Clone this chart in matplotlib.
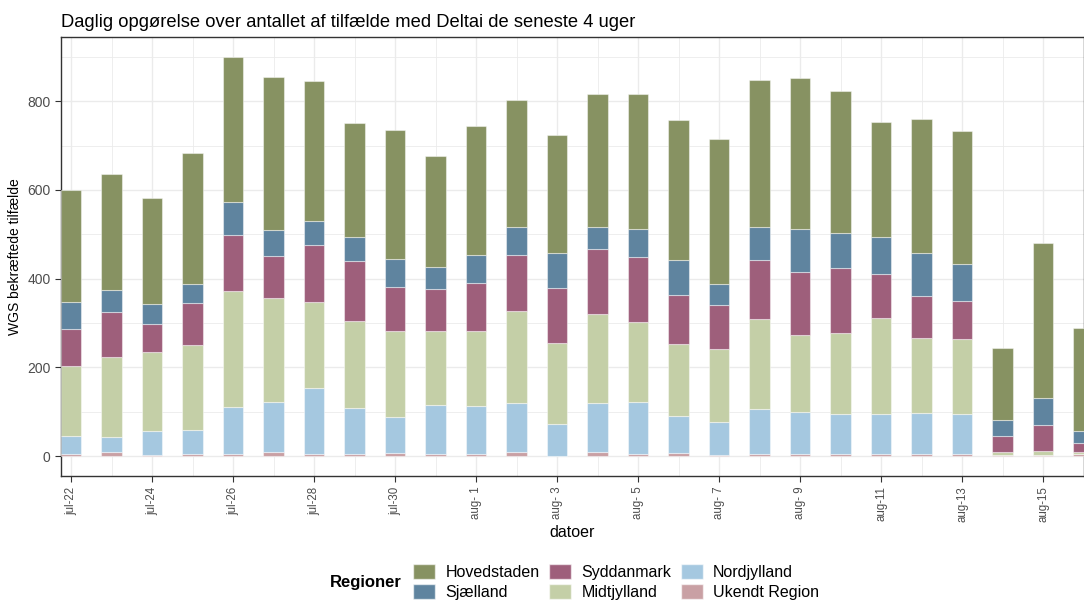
import matplotlib.pyplot as plt
import numpy as np
from matplotlib.patches import Patch

plt.rcParams['font.family'] = ['Liberation Sans', 'DejaVu Sans']

dates = ["jul-22", "jul-23", "jul-24", "jul-25", "jul-26", "jul-27", "jul-28",
         "jul-29", "jul-30", "jul-31", "aug- 1", "aug- 2", "aug- 3", "aug- 4",
         "aug- 5", "aug- 6", "aug- 7", "aug- 8", "aug- 9", "aug-10", "aug-11",
         "aug-12", "aug-13", "aug-14", "aug-15", "aug-16"]

# counts per region
ukendt = [5, 8, 3, 5, 5, 8, 5, 5, 7, 5, 5, 8, 1, 10, 5, 7, 3, 5, 5, 5, 5, 5, 5, 3, 3, 4]
nordjylland = [40, 35, 53, 53, 105, 115, 149, 104, 80, 110, 108, 111, 71, 109, 118, 84, 74, 101, 94, 89, 89, 93, 89, 0, 0, 0]
midtjylland = [159, 180, 179, 192, 262, 233, 194, 196, 194, 166, 168, 208, 182, 201, 179, 161, 164, 202, 173, 184, 218, 168, 169, 6, 9, 5]
syddanmark = [83, 101, 63, 95, 127, 96, 127, 135, 101, 96, 110, 126, 126, 146, 147, 112, 99, 134, 144, 147, 99, 94, 87, 36, 58, 21]
sjaelland = [61, 50, 45, 44, 73, 57, 56, 55, 62, 50, 63, 63, 79, 50, 62, 78, 49, 75, 95, 79, 84, 99, 82, 37, 60, 26]
hovedstaden = [252, 261, 238, 295, 328, 345, 314, 256, 291, 250, 290, 288, 264, 300, 305, 315, 326, 332, 341, 319, 259, 302, 300, 161, 350, 232]

regions = ["Ukendt Region", "Nordjylland", "Midtjylland", "Syddanmark", "Sjælland", "Hovedstaden"]
colors = ["#c9a0a4", "#a5c8e0", "#c4cfa7", "#9e5f7b", "#5f849f", "#879262"]
series = [ukendt, nordjylland, midtjylland, syddanmark, sjaelland, hovedstaden]

x = np.arange(len(dates))

fig = plt.figure(figsize=(10.84, 6.01), dpi=100)
ax = fig.add_axes([61 / 1084, 125 / 601, 1 - 61 / 1084, 439 / 601])

bottom = np.zeros(len(dates))
handles = {}
for name, col, vals in zip(regions, colors, series):
    vals = np.array(vals)
    ax.bar(x, vals, width=0.5, bottom=bottom, color=col,
           edgecolor=(1, 1, 1, 0.45), linewidth=0.8, zorder=3)
    handles[name] = Patch(facecolor=col, edgecolor=(1, 1, 1, 0.6))
    bottom += vals

ax.set_xlim(-0.25, 25.01)
ax.set_ylim(-45, 945)
ax.set_yticks([0, 200, 400, 600, 800])
ax.set_yticks([100, 300, 500, 700, 900], minor=True)
ax.set_xticks(x[::2])
ax.set_xticklabels(dates[::2], rotation=90, color="#4d4d4d", fontsize=8.3)
ax.set_xticks(x[1::2], minor=True)
ax.tick_params(axis="y", labelcolor="#4d4d4d", labelsize=10, color="#333333", length=4)
ax.tick_params(axis="x", color="#333333", length=4)
ax.tick_params(which="minor", length=0)
ax.grid(which="major", color="#ebebeb", linewidth=1.0, zorder=0)
ax.grid(which="minor", color="#ebebeb", linewidth=0.6, zorder=0)
ax.set_axisbelow(True)
for s in ax.spines.values():
    s.set_color("#333333")
    s.set_linewidth(1.0)

ax.set_title("Daglig opgørelse over antallet af tilfælde med Deltai de seneste 4 uger",
             loc="left", fontsize=13.2, pad=7)
ax.set_ylabel("WGS bekræftede tilfælde", fontsize=10)
ax.set_xlabel("datoer", fontsize=11.5, labelpad=2)

order = ["Hovedstaden", "Sjælland", "Syddanmark", "Midtjylland", "Nordjylland", "Ukendt Region"]
fig.legend([handles[n] for n in order], order, ncol=3, loc="center left",
           bbox_to_anchor=(413 / 1084, 1 - 582 / 601), frameon=False,
           borderpad=0, borderaxespad=0,
           fontsize=11.5, handlelength=1.375, handleheight=1.1,
           handletextpad=0.65, columnspacing=0.6, labelspacing=0.25)
fig.text(330 / 1084, 1 - 582 / 601, "Regioner", fontsize=12, fontweight="bold",
         va="center", ha="left")

fig.savefig("out.png", dpi=100)
